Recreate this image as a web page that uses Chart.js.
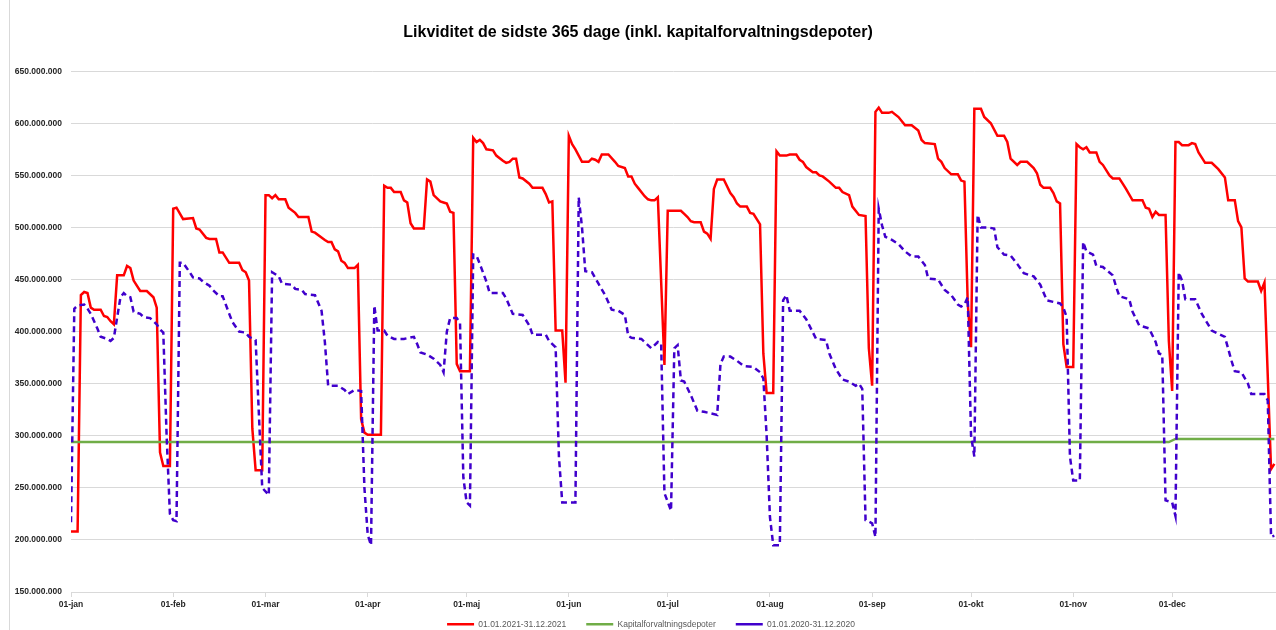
<!DOCTYPE html>
<html>
<head>
<meta charset="utf-8">
<script src="https://cdn.jsdelivr.net/npm/chart.js@4.4.1/dist/chart.umd.min.js"></script>
<style>
  body { margin: 0; background: #fff; overflow: hidden; }
  #wrap { position: relative; width: 1276px; height: 630px; }
  #edge { position: absolute; left: 9px; top: 0; width: 1px; height: 630px; background: #d9d9d9; }
</style>
</head>
<body>
<div id="wrap">
  <div id="edge"></div>
  <canvas id="likviditetChart" width="1276" height="630"></canvas>
</div>
<script>
// x = day of year (0 = 1 jan), values in millions DKK
const monthStarts = [0, 31, 59, 90, 120, 151, 181, 212, 243, 273, 304, 334];
const monthLabels = ['01-jan', '01-feb', '01-mar', '01-apr', '01-maj', '01-jun',
                     '01-jul', '01-aug', '01-sep', '01-okt', '01-nov', '01-dec'];

// 01.01.2021-31.12.2021
const days2021 = [0, 2, 3, 4, 5, 6, 7, 9, 10, 11, 12, 13, 14, 16, 17, 18, 19, 21, 23, 25, 26, 27, 28, 30,
  31, 32, 34, 37, 38, 39, 41, 42, 44, 45, 46, 48, 51, 52, 53, 54, 55, 56, 58,
  59, 60, 61, 62, 63, 65, 66, 68, 69, 72, 73, 74, 77, 78, 79, 80, 81, 82, 83, 84, 86, 87, 88, 89, 90, 94,
  95, 96, 97, 98, 100, 101, 102, 103, 104, 107, 108, 109, 110, 112, 113, 114, 115, 116, 117, 118, 121,
  122, 123, 124, 125, 126, 128, 129, 131, 132, 133, 134, 135, 136, 137, 139, 140, 143, 144, 145, 146, 147, 149, 150,
  151, 152, 153, 155, 157, 158, 159, 160, 161, 163, 165, 166, 168, 169, 170, 171, 172, 174, 175, 176, 177, 178, 180,
  181, 185, 186, 187, 188, 189, 191, 192, 193, 194, 195, 196, 198, 200, 201, 202, 203, 205, 206, 207, 209, 210, 211, 213,
  214, 215, 217, 218, 220, 221, 222, 223, 225, 226, 227, 228, 230, 232, 233, 234, 236, 237, 239, 241, 242, 243,
  244, 245, 246, 248, 249, 251, 253, 255, 257, 258, 259, 262, 263, 264, 265, 267, 269, 270, 271, 272, 273,
  274, 276, 277, 279, 281, 283, 284, 285, 287, 288, 290, 292, 293, 294, 295, 297, 298, 299, 300, 301, 302, 304,
  305, 306, 307, 308, 309, 311, 312, 313, 315, 316, 318, 319, 320, 322, 325, 326, 327, 328, 329, 330, 332, 333, 334,
  335, 336, 337, 339, 340, 341, 342, 344, 346, 348, 350, 351, 353, 354, 355, 356, 357, 360, 361, 362, 364, 365];
const liq2021 = [208, 208, 435, 438, 437, 423, 421, 421, 415, 414, 410, 407, 454, 454, 463, 461, 449, 439, 439, 433, 423, 284, 271, 271,
  518, 519, 508, 509, 499, 498, 490, 489, 489, 476, 476, 466, 466, 459, 457, 449, 307, 267, 267,
  531, 531, 528, 531, 527, 527, 519, 514, 510, 510, 496, 495, 488, 486, 486, 479, 477, 468, 466, 461, 461, 464, 316, 303, 301, 301,
  540, 538, 538, 534, 534, 526, 524, 504, 499, 499, 546, 544, 531, 525, 524, 523, 515, 514, 369, 362, 362,
  586, 582, 584, 581, 575, 574, 569, 564, 562, 563, 566, 566, 548, 547, 542, 538, 538, 532, 524, 525, 401, 401, 351,
  588, 580, 575, 563, 563, 566, 565, 563, 570, 570, 563, 559, 557, 549, 549, 542, 538, 530, 527, 526, 526, 529, 368,
  516, 516, 513, 510, 506, 505, 505, 496, 494, 489, 537, 546, 546, 533, 529, 523, 520, 520, 514, 513, 503, 379, 341, 341,
  573, 569, 569, 570, 570, 565, 563, 558, 553, 553, 550, 549, 544, 538, 538, 534, 531, 520, 512, 511, 384, 348,
  611, 615, 610, 610, 611, 606, 598, 598, 593, 584, 581, 580, 566, 563, 557, 551, 551, 545, 544, 427, 385,
  614, 614, 606, 600, 588, 588, 582, 566, 560, 563, 563, 557, 552, 541, 538, 538, 533, 525, 523, 388, 366, 366,
  580, 577, 575, 577, 572, 572, 563, 560, 550, 547, 547, 542, 537, 526, 526, 519, 518, 510, 515, 512, 512, 391, 343,
  582, 582, 579, 579, 581, 580, 572, 562, 562, 556, 548, 526, 526, 506, 500, 451, 448, 448, 439, 447, 268, 273];

// Kapitalforvaltningsdepoter
const daysDepot = [0, 333, 335, 365];
const depot = [294, 294, 297, 297];

// 01.01.2020-31.12.2020
const days2020 = [0, 1, 2, 4, 5, 6, 8, 9, 11, 12, 13, 15, 16, 17, 18, 19, 21, 22, 24, 26, 27, 28, 29, 30, 31, 32,
  33, 34, 36, 37, 39, 40, 42, 43, 45, 46, 48, 49, 51, 53, 54, 56, 57, 58, 60,
  61, 63, 64, 67, 68, 70, 71, 74, 76, 77, 78, 81, 83, 84, 86, 88, 89, 90, 91,
  92, 93, 95, 96, 98, 101, 104, 105, 106, 108, 110, 112, 113, 114, 115, 117, 118, 119, 120, 121,
  122, 123, 124, 126, 127, 131, 132, 134, 137, 139, 140, 144, 145, 147, 148, 149, 153,
  154, 155, 156, 158, 160, 162, 164, 166, 168, 169, 170, 173, 174, 176, 178, 179, 180, 182,
  183, 184, 185, 186, 188, 190, 192, 196, 197, 198, 200, 202, 204, 207, 209, 210, 211, 212, 213, 215,
  216, 217, 218, 221, 223, 226, 229, 230, 232, 234, 236, 238, 239, 240, 241, 243, 244,
  245, 246, 247, 249, 251, 253, 255, 257, 259, 260, 263, 265, 267, 269, 270, 271, 272, 273, 274,
  275, 276, 278, 280, 281, 283, 285, 287, 289, 292, 294, 296, 300, 301, 302, 303, 304, 306,
  307, 308, 310, 311, 313, 316, 317, 318, 321, 322, 324, 327, 329, 330, 331, 332, 334, 335,
  336, 337, 338, 341, 343, 346, 348, 350, 352, 353, 355, 357, 358, 362, 363, 364, 365];
const liq2020 = [217, 422, 425, 426, 422, 417, 403, 395, 393, 391, 394, 433, 437, 434, 433, 419, 417, 414, 413, 407, 402, 399, 300, 225, 219, 218,
  466, 466, 457, 452, 451, 448, 444, 440, 434, 434, 417, 409, 400, 399, 395, 392, 320, 250, 243,
  457, 453, 446, 445, 441, 440, 436, 435, 420, 390, 348, 348, 344, 340, 344, 343, 250, 205, 195,
  425, 401, 401, 396, 393, 393, 395, 388, 380, 378, 374, 368, 361, 400, 413, 413, 408, 260, 236, 233,
  474, 473, 465, 448, 437, 437, 432, 417, 416, 406, 397, 397, 391, 385, 280, 236, 236,
  529, 500, 458, 457, 446, 435, 421, 420, 416, 396, 394, 393, 390, 384, 390, 389, 245, 228,
  384, 387, 353, 352, 339, 324, 323, 320, 369, 376, 376, 372, 367, 366, 361, 355, 300, 222, 195, 195,
  430, 435, 420, 420, 412, 393, 392, 379, 364, 354, 352, 348, 350, 345, 219, 216, 203,
  518, 502, 491, 488, 484, 477, 472, 472, 464, 451, 450, 440, 435, 426, 424, 426, 433, 300, 280,
  512, 500, 500, 499, 481, 474, 473, 465, 456, 453, 445, 430, 427, 423, 414, 280, 257, 257,
  486, 477, 474, 463, 462, 454, 443, 434, 431, 419, 406, 403, 390, 379, 378, 238, 236, 223,
  457, 449, 431, 431, 417, 401, 398, 395, 372, 362, 361, 350, 340, 340, 334, 203, 204];

function toPoints(days, values) {
    return days.map((d, i) => ({ x: d, y: values[i] }));
}

function formatMillions(v) {
    return String(Math.round(v * 1000000)).replace(/\B(?=(\d{3})+(?!\d))/g, '.');
}

const fontFamily = "'Liberation Sans', Arial, sans-serif";

// legend box is kept short so the plot area ends at the 150 line;
// stretch it upwards so the items land at the bottom edge, and nudge it right
const legendLift = {
    id: 'legendLift',
    afterLayout(chart) {
        if (!chart.legend) return;
        chart.legend.top -= 11;
        chart.legend.bottom = chart.height;
        chart.legend.height = chart.legend.bottom - chart.legend.top;
        chart.legend.left += 26;
        chart.legend.width = chart.legend.right - chart.legend.left;
    }
};

const ctx = document.getElementById('likviditetChart').getContext('2d');
new Chart(ctx, {
    type: 'line',
    data: {
        datasets: [
            {
                label: '01.01.2021-31.12.2021',
                data: toPoints(days2021, liq2021),
                borderColor: '#ff0000',
                backgroundColor: '#ff0000',
                borderWidth: 2.5,
                order: 3
            },
            {
                label: 'Kapitalforvaltningsdepoter',
                data: toPoints(daysDepot, depot),
                borderColor: '#70ad47',
                backgroundColor: '#70ad47',
                borderWidth: 2.5,
                order: 2
            },
            {
                label: '01.01.2020-31.12.2020',
                data: toPoints(days2020, liq2020),
                borderColor: '#4000cc',
                backgroundColor: '#4000cc',
                borderWidth: 2.5,
                borderDash: [6, 4],
                order: 1
            }
        ]
    },
    plugins: [legendLift],
    options: {
        responsive: false,
        animation: false,
        layout: { padding: 0 },
        elements: {
            point: { radius: 0, hoverRadius: 0 },
            line: { tension: 0, fill: false }
        },
        plugins: {
            title: {
                display: true,
                text: 'Likviditet de sidste 365 dage (inkl. kapitalforvaltningsdepoter)',
                color: '#000',
                font: { family: fontFamily, size: 16, weight: 'bold' },
                padding: { top: 23, bottom: 29 }
            },
            legend: {
                position: 'bottom',
                maxHeight: 19,
                labels: {
                    usePointStyle: true,
                    pointStyle: 'line',
                    pointStyleWidth: 27,
                    color: '#595959',
                    font: { family: fontFamily, size: 8.5 },
                    padding: 20,
                    sort: (a, b) => a.datasetIndex - b.datasetIndex
                }
            },
            tooltip: { enabled: false }
        },
        scales: {
            x: {
                type: 'linear',
                min: 0,
                max: 365.5,
                afterFit: (scale) => { scale.height = 19; },
                afterBuildTicks: (scale) => {
                    scale.ticks = monthStarts.map(v => ({ value: v }));
                },
                ticks: {
                    autoSkip: false,
                    maxRotation: 0,
                    padding: 3,
                    color: '#262626',
                    font: { family: fontFamily, size: 8.5, weight: 'bold' },
                    callback: (value, index) => monthLabels[index]
                },
                grid: {
                    drawOnChartArea: false,
                    drawTicks: true,
                    tickLength: 5,
                    color: '#d9d9d9'
                },
                border: { display: true, color: '#d9d9d9' }
            },
            y: {
                min: 150,
                max: 650,
                afterFit: (scale) => { scale.width = 71; },
                ticks: {
                    stepSize: 50,
                    padding: 9,
                    color: '#262626',
                    font: { family: fontFamily, size: 8.5, weight: 'bold' },
                    callback: (value) => formatMillions(value)
                },
                grid: { color: '#d9d9d9', drawTicks: false },
                border: { display: false }
            }
        }
    }
});
</script>
</body>
</html>
